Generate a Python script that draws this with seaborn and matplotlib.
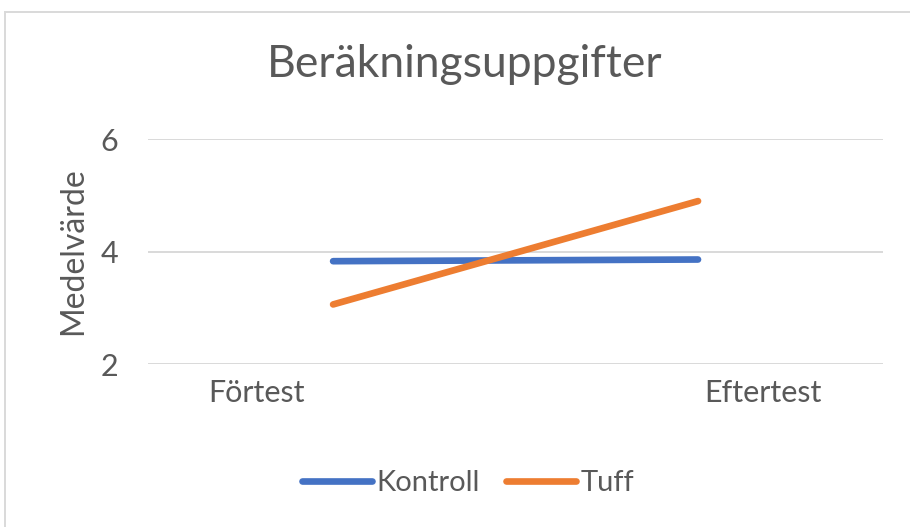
import pandas as pd
import numpy as np
import matplotlib
matplotlib.use("Agg")
import matplotlib.pyplot as plt
import seaborn as sns
from matplotlib.patches import Rectangle

# data
categories = ["Förtest", "Eftertest"]
kontroll = [3.83, 3.86]
tuff = [3.06, 4.90]
series_names = ["Kontroll", "Tuff"]
colors = {"Kontroll": "#4472C4", "Tuff": "#ED7D31"}
yticks = [2, 4, 6]

df = pd.DataFrame({
    "pos": [0, 1, 0, 1],
    "varde": kontroll + tuff,
    "serie": ["Kontroll"] * 2 + ["Tuff"] * 2,
})

sns.set_style("white")
plt.rcParams["font.family"] = ["Lato", "DejaVu Sans"]
txt = "#595959"

fig = plt.figure(figsize=(9.1, 5.27), dpi=100)
fig.patches.append(Rectangle((5 / 910, -0.1), 1.2, 1 - 12 / 527 + 0.1,
                             transform=fig.transFigure, fill=False,
                             edgecolor="#d9d9d9", linewidth=1.4))

ax = fig.add_axes([147.7 / 910, 1 - 364 / 527, 735 / 910, 224.7 / 527])
sns.lineplot(data=df, x="pos", y="varde", hue="serie", palette=colors,
             linewidth=4.8, ax=ax, legend=False, solid_capstyle="round")

ax.set_xlim(-0.508, 1.506)
ax.set_ylim(2, 6)
ax.set_yticks(yticks)
ax.set_xticks([-0.211, 1.179])
ax.set_xticklabels(categories)
ax.grid(axis="y", color="#d9d9d9", linewidth=1.4)
ax.set_axisbelow(True)
for s in ax.spines.values():
    s.set_visible(False)
ax.tick_params(axis="x", length=0, pad=11, labelsize=22, labelcolor=txt)
ax.tick_params(axis="y", length=0, pad=21, labelsize=22, labelcolor=txt)
ax.set_xlabel("")
ax.set_ylabel("")

fig.text(73 / 910, 1 - 251 / 527, "Medelvärde", rotation=90, ha="center",
         va="center", fontsize=23, color=txt)
fig.text(465 / 910, 1 - 77 / 527, "Beräkningsuppgifter", ha="center",
         va="baseline", fontsize=32, color=txt)

handles = [plt.Line2D([], [], color=colors[n], linewidth=4.8,
                      solid_capstyle="round") for n in series_names]
fig.legend(handles, series_names, loc="center", bbox_to_anchor=(468 / 910, 1 - 483 / 527),
           ncol=2, frameon=False, fontsize=21, handlelength=2.4,
           handletextpad=0.15, columnspacing=0.9, labelcolor=txt)

fig.savefig("out.png", dpi=100)
